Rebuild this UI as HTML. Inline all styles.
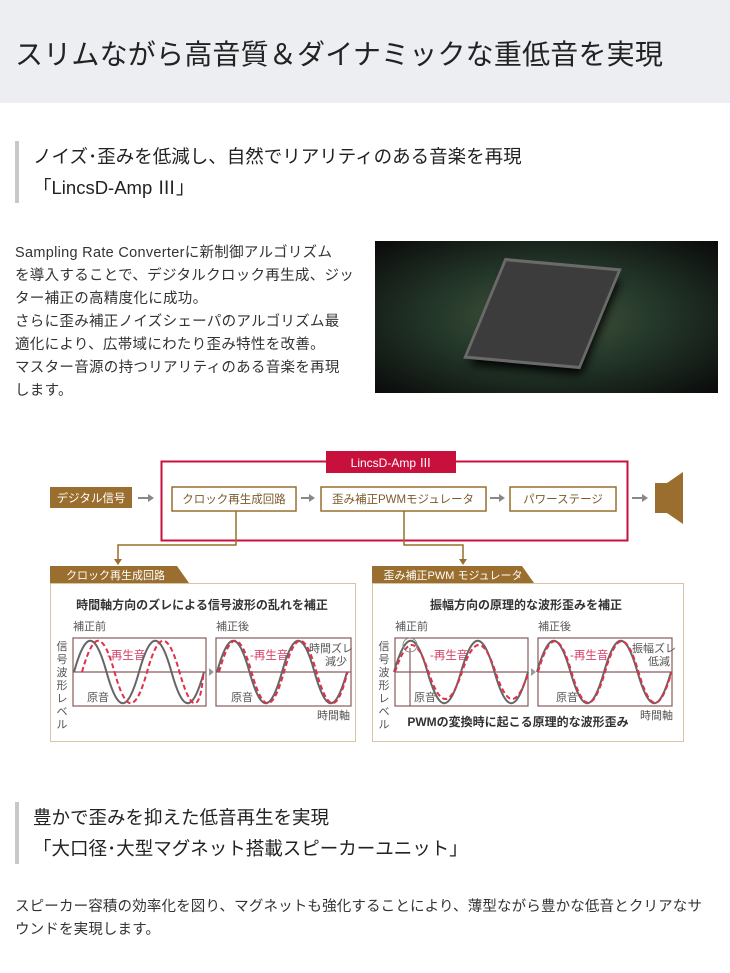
<!DOCTYPE html>
<html><head><meta charset="utf-8"><style>
*{margin:0;padding:0;box-sizing:border-box}
body{width:730px;height:973px;background:#fff;font-family:"Liberation Sans","Noto Sans CJK JP",sans-serif;color:#333;position:relative;overflow:hidden}
.hdr{position:absolute;left:0;top:0;width:730px;height:103px;background:#eceef2}
.hdr h1{position:absolute;left:15px;top:33px;font-size:28px;font-weight:normal;color:#222;letter-spacing:0.2px}
.sec{position:absolute;left:15px;border-left:4px solid #c8c8c8;padding-left:14px;font-size:18.5px;line-height:31px;color:#222}
.p{position:absolute;left:15px;font-size:14.5px;line-height:23px;color:#333}
.img{position:absolute;left:375px;top:241px;width:343px;height:152px;background:radial-gradient(ellipse at 50% 50%,#4a5a40 0%,#24382a 45%,#0a0a0a 100%);overflow:hidden}
.chip{position:absolute;left:110px;top:25px;width:115px;height:95px;background:#3c3c3c;transform:skewX(-18deg) rotate(5deg);box-shadow:0 0 0 3px #6a6a6a,6px 8px 10px #000}
</style></head><body>
<div class="hdr"><h1>スリムながら高音質＆ダイナミックな重低音を実現</h1></div>
<div class="sec" style="top:141px">ノイズ･歪みを低減し、自然でリアリティのある音楽を再現<br>「LincsD-Amp Ⅲ」</div>
<div class="p" style="top:242px;width:360px;letter-spacing:0.3px">Sampling Rate Converterに新制御アルゴリズム<br>を導入することで、デジタルクロック再生成、ジッ<br>ター補正の高精度化に成功。<br>さらに歪み補正ノイズシェーパのアルゴリズム最<br>適化により、広帯域にわたり歪み特性を改善。<br>マスター音源の持つリアリティのある音楽を再現<br>します。</div>
<div class="img"><div class="chip"></div></div>

<svg style="position:absolute;left:0;top:440px" width="730" height="310" viewBox="0 440 730 310" font-family="Liberation Sans,Noto Sans CJK JP,sans-serif">
<rect x="161.5" y="461.5" width="466" height="79" fill="none" stroke="#c8103d" stroke-width="2"/>
<rect x="326" y="451" width="130" height="22" fill="#c8103d"/>
<text x="391" y="467" font-size="12" fill="#fff" text-anchor="middle">LincsD-Amp Ⅲ</text>
<rect x="50" y="487" width="82" height="21" fill="#9a6e2e"/>
<text x="91" y="502" font-size="11.5" fill="#fff" text-anchor="middle">デジタル信号</text>
<g fill="#fff" stroke="#9a6e2e" stroke-width="1.5">
<rect x="172" y="487" width="124" height="24"/><rect x="321" y="487" width="165" height="24"/><rect x="510" y="487" width="106" height="24"/></g>
<g font-size="11.5" fill="#7a5a2a" text-anchor="middle">
<text x="234" y="503">クロック再生成回路</text><text x="403" y="503">歪み補正PWMモジュレータ</text><text x="563" y="503">パワーステージ</text></g>
<g fill="#888"><path d="M138,497h10v-3l6,4l-6,4v-3h-10z"/><path d="M301,497h8v-3l6,4l-6,4v-3h-8z"/><path d="M490,497h9v-3l6,4l-6,4v-3h-9z"/><path d="M632,497h10v-3l6,4l-6,4v-3h-10z"/></g>
<rect x="655" y="483" width="12" height="30" fill="#9a6e2e"/><path d="M667,483l16,-11v52l-16,-11z" fill="#9a6e2e"/>
<g fill="none" stroke="#9a6e2e" stroke-width="1.5"><path d="M236,511v34h-118v16"/><path d="M404,511v34h59v16"/></g>
<g fill="#9a6e2e"><path d="M114,559h8l-4,6z"/><path d="M459,559h8l-4,6z"/></g>
<path d="M50,566h127l12,17h-139z" fill="#9a6e2e"/><text x="66" y="579" font-size="11" fill="#fff">クロック再生成回路</text>
<path d="M372,566h150l12,17h-162z" fill="#9a6e2e"/><text x="453" y="579" font-size="11" fill="#fff" text-anchor="middle">歪み補正PWM モジュレータ</text>
<rect x="50.5" y="583.5" width="305" height="158" fill="none" stroke="#d8c4a4"/>
<rect x="372.5" y="583.5" width="311" height="158" fill="none" stroke="#d8c4a4"/>
<g font-size="12" fill="#333" text-anchor="middle" font-weight="bold"><text x="202" y="609">時間軸方向のズレによる信号波形の乱れを補正</text><text x="526" y="609">振幅方向の原理的な波形歪みを補正</text><text x="518" y="726">PWMの変換時に起こる原理的な波形歪み</text></g>
<g font-size="11" fill="#555"><text x="73" y="630">補正前</text><text x="216" y="630">補正後</text><text x="395" y="630">補正前</text><text x="538" y="630">補正後</text>
<text x="317" y="719">時間軸</text><text x="640" y="719">時間軸</text>
<text x="87" y="701">原音</text><text x="231" y="701">原音</text><text x="414" y="701">原音</text><text x="556" y="701">原音</text>
<text x="309" y="652">時間ズレ</text><text x="325" y="665">減少</text><text x="632" y="652">振幅ズレ</text><text x="648" y="665">低減</text></g>
<g font-size="11" fill="#555" text-anchor="middle"><text x="62" y="650">信</text><text x="62" y="663">号</text><text x="62" y="676">波</text><text x="62" y="689">形</text><text x="62" y="702">レ</text><text x="62" y="715">ベ</text><text x="62" y="728">ル</text>
<text x="384" y="650">信</text><text x="384" y="663">号</text><text x="384" y="676">波</text><text x="384" y="689">形</text><text x="384" y="702">レ</text><text x="384" y="715">ベ</text><text x="384" y="728">ル</text></g>
<g font-size="11.5" fill="#d8406a"><text x="107" y="659">-再生音</text><text x="250" y="659">-再生音</text><text x="430" y="659">-再生音</text><text x="570" y="659">-再生音</text></g>
<g fill="none" stroke="#8a5a5a" stroke-width="1.2"><rect x="73" y="638" width="133" height="68"/><rect x="216" y="638" width="135" height="68"/><rect x="395" y="638" width="133" height="68"/><rect x="538" y="638" width="134" height="68"/>
<path d="M73,672h133M216,672h135M395,672h133M538,672h134"/><path d="M410,648v58"/></g>
<path d="M209,668l5,4l-5,4z M531,668l5,4l-5,4z" fill="#999"/>
<g fill="none" stroke-width="2">
<path stroke="#666" d="M74,672c11.7,-41.6 20.8,-41.6 32.5,0c11.7,41.6 20.8,41.6 32.5,0c11.7,-41.6 20.8,-41.6 32.5,0c11.7,41.6 20.8,41.6 32.5,0"/>
<path stroke="#e0304a" stroke-dasharray="5,3" d="M82,672c11.7,-41.6 20.8,-41.6 32.5,0c11.7,41.6 20.8,41.6 32.5,0c11.7,-41.6 20.8,-41.6 32.5,0c11.7,41.6 20.8,41.6 24,0"/>
<path stroke="#666" d="M217,672c11.7,-41.6 20.8,-41.6 32.5,0c11.7,41.6 20.8,41.6 32.5,0c11.7,-41.6 20.8,-41.6 32.5,0c11.7,41.6 20.8,41.6 32.5,0"/>
<path stroke="#e0304a" stroke-dasharray="5,3" d="M219,672c11.7,-41.6 20.8,-41.6 32.5,0c11.7,41.6 20.8,41.6 32.5,0c11.7,-41.6 20.8,-41.6 32.5,0c11.7,41.6 20.8,41.6 31,0"/>
<path stroke="#666" d="M394,672c12,-41.6 21.5,-41.6 33.5,0c12,41.6 21.5,41.6 33.5,0c12,-41.6 21.5,-41.6 33.5,0c12,41.6 21.5,41.6 33.5,0"/>
<path stroke="#e0304a" stroke-dasharray="5,3" d="M395,672c12,-36 21.5,-36 33.5,0c12,36 21.5,36 33.5,0c12,-36 21.5,-36 33.5,0c12,36 21.5,36 33,0"/>
<path stroke="#666" d="M537,672c12,-41.6 21.5,-41.6 33.5,0c12,41.6 21.5,41.6 33.5,0c12,-41.6 21.5,-41.6 33.5,0c12,41.6 21.5,41.6 33.5,0"/>
<path stroke="#e0304a" stroke-dasharray="5,3" d="M538,672c12,-41 21.5,-41 33.5,0c12,41 21.5,41 33.5,0c12,-41 21.5,-41 33.5,0c12,41 21.5,41 33,0"/>
</g>
<circle cx="410" cy="645" r="7" fill="none" stroke="#888"/>
</svg>

<div class="sec" style="top:802px">豊かで歪みを抑えた低音再生を実現<br>「大口径･大型マグネット搭載スピーカーユニット」</div>
<div class="p" style="top:896px;width:715px;letter-spacing:0.15px">スピーカー容積の効率化を図り、マグネットも強化することにより、薄型ながら豊かな低音とクリアなサ<br>ウンドを実現します。</div>
</body></html>
